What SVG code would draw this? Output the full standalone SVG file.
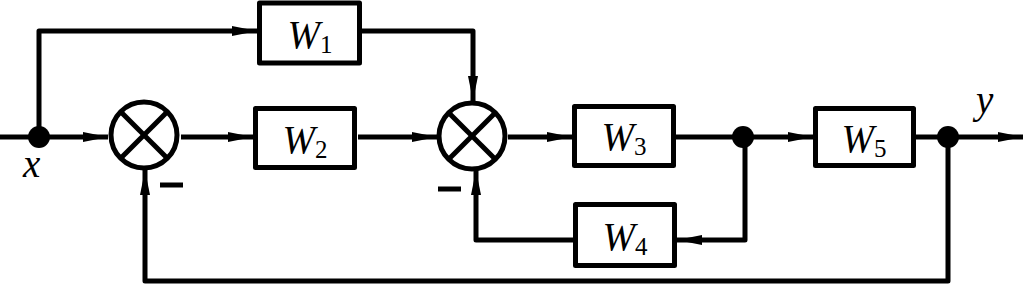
<svg xmlns="http://www.w3.org/2000/svg" width="1024" height="285" viewBox="0 0 1024 285">
<style>
.box{fill:#fff;stroke:#000;stroke-width:5;stroke-linejoin:round}
.sum{fill:#fff;stroke:#000;stroke-width:5}
.x{stroke:#000;stroke-width:5}
.w{fill:none;stroke:#000;stroke-width:5;stroke-linejoin:round}
.arr{marker-end:url(#ah)}
.dot{fill:#000}
.lbl{font-family:"Liberation Serif","Times New Roman",serif;font-size:39px;fill:#000}
.it{font-style:italic}
.sub{font-size:25px}
.minus{stroke:#000;stroke-width:5}
</style>
<defs>
<marker id="ah" markerUnits="userSpaceOnUse" markerWidth="26" markerHeight="12" viewBox="0 0 26 12" refX="25" refY="6" orient="auto">
<path d="M0,1 L25,6 L0,11 z" fill="#000"/>
</marker>
</defs>
<g id="connectors">
<path class="w arr" d="M0,137 H108"/>
<path class="w arr" d="M39,137 V31 H257"/>
<path class="w arr" d="M181,137 H253"/>
<path class="w arr" d="M358,137 H437"/>
<path class="w arr" d="M362,31 H473 V101"/>
<path class="w arr" d="M508,137 H572"/>
<path class="w arr" d="M676,137 H813"/>
<path class="w arr" d="M916,137 H1023"/>
<path class="w arr" d="M745,137 V240 H677"/>
<path class="w arr" d="M573,240 H476 V170"/>
<path class="w arr" d="M948,137 V281 H145 V170"/>
</g>
<g id="j1"><circle class="dot" cx="39" cy="137" r="11"/></g>
<g id="j2"><circle class="dot" cx="743" cy="137" r="11"/></g>
<g id="j3"><circle class="dot" cx="948" cy="137" r="11"/></g>
<g id="sum1">
<circle class="sum" cx="144" cy="135" r="33"/>
<line class="x" x1="120.7" y1="111.7" x2="167.3" y2="158.3"/>
<line class="x" x1="167.3" y1="111.7" x2="120.7" y2="158.3"/>
<line class="minus" x1="160" y1="185" x2="183" y2="185"/>
</g>
<g id="sum2">
<circle class="sum" cx="472" cy="136" r="33"/>
<line class="x" x1="448.7" y1="112.7" x2="495.3" y2="159.3"/>
<line class="x" x1="495.3" y1="112.7" x2="448.7" y2="159.3"/>
<line class="minus" x1="438" y1="189" x2="461" y2="189"/>
</g>
<g id="W1">
<rect class="box" x="259.5" y="3" width="100" height="60"/>
<text class="lbl" x="310" y="48" text-anchor="middle"><tspan class="it">W</tspan><tspan class="sub" dy="5">1</tspan></text>
</g>
<g id="W2">
<rect class="box" x="255.5" y="108.5" width="99" height="59"/>
<text class="lbl" x="305" y="153" text-anchor="middle"><tspan class="it">W</tspan><tspan class="sub" dy="5">2</tspan></text>
</g>
<g id="W3">
<rect class="box" x="574.5" y="106.5" width="99" height="59"/>
<text class="lbl" x="624" y="150" text-anchor="middle"><tspan class="it">W</tspan><tspan class="sub" dy="5">3</tspan></text>
</g>
<g id="W4">
<rect class="box" x="575.5" y="204.5" width="99" height="61"/>
<text class="lbl" x="625" y="250" text-anchor="middle"><tspan class="it">W</tspan><tspan class="sub" dy="5">4</tspan></text>
</g>
<g id="W5">
<rect class="box" x="815.5" y="108.5" width="98" height="57"/>
<text class="lbl" x="864" y="152" text-anchor="middle"><tspan class="it">W</tspan><tspan class="sub" dy="5">5</tspan></text>
</g>
<text class="lbl it" x="23" y="177">x</text>
<text class="lbl it" x="976" y="113">y</text>
</svg>
